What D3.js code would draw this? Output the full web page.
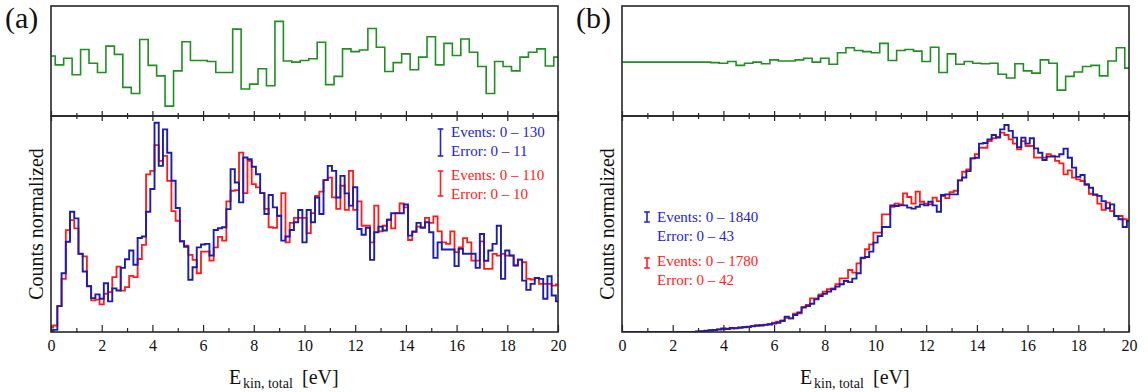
<!DOCTYPE html>
<html>
<head>
<meta charset="utf-8">
<script src="https://cdn.jsdelivr.net/npm/d3@7"></script>
<style>
  html, body { margin: 0; padding: 0; background: #fff; }
  svg { display: block; }
</style>
</head>
<body>
<svg id="chart" width="1148" height="392"></svg>
<script>
// ---- data -------------------------------------------------------------
// Fine histograms: bins of 1/6 eV centred on k/6 eV (k = 0..120), normalized counts (%)
const energyBinWidth = 1 / 6;
// Difference histograms: bins of 1/3 eV centred on k/3 eV (k = 0..60)
const diffBinWidth = 1 / 3;

const countsA_blue = [
  0.5, 1, 12, 27.2, 41.8, 55.7, 52.6, 36.2, 28, 21.2,
  15.7, 17.4, 15.4, 22.6, 14.2, 20.2, 19.2, 29.7, 33.7, 37.7,
  31.1, 43.5, 44.2, 55.7, 66.2, 96.9, 76.9, 93.8, 83, 70,
  57.4, 42, 39.5, 24.2, 30, 39.2, 40.5, 40.8, 35.4, 47.2,
  48, 48.5, 56.9, 75.4, 69.2, 60, 80.8, 80, 76.5, 73,
  64.3, 54.6, 63.4, 57.7, 53.8, 42.3, 44.2, 47.2, 50.8, 56.5,
  41.5, 56.5, 50.8, 62.3, 54.6, 70.3, 76.9, 74.6, 62.3, 72.3,
  64.2, 58.5, 67, 47.7, 45, 48.2, 33.4, 46.2, 48.8, 47,
  52, 55, 55, 55, 59, 44.6, 46.6, 50.5, 48.2, 50.8,
  46.2, 34.3, 41.5, 38.2, 38.2, 38.2, 30.5, 38.5, 36.2, 36.2,
  36.2, 29.7, 45.4, 33, 37.7, 40.8, 49.2, 24.6, 37.7, 35.4,
  30.8, 33.5, 23.8, 19.5, 22.3, 25, 24.6, 15.4, 25.8, 16.9,
  14.2
];
const countsA_red = [
  2, 3, 12, 24.6, 47.2, 51.8, 48, 36.2, 35, 21.2,
  14.6, 15, 12.8, 17.7, 18.5, 25.4, 30.3, 19.2, 20.8, 26,
  25.4, 33.8, 40.3, 73, 74.6, 86.5, 79.2, 81.5, 70, 56,
  51.5, 42, 40, 35.7, 33.4, 27.2, 37.2, 37.2, 33, 39.2,
  44, 42.3, 60.5, 65.4, 65.7, 83, 64.3, 79.2, 68.5, 67,
  64.3, 57, 48.5, 48.2, 53.8, 64.3, 41.5, 50.5, 52.8, 52.8,
  52.8, 45.8, 55, 63, 65, 70.3, 71.5, 62.3, 57, 67.7,
  56.5, 74.6, 56.5, 60.5, 49.2, 49.2, 41.5, 58.5, 46.6, 49.2,
  52, 48, 55, 59.5, 57.7, 42.6, 46.2, 48.8, 48.5, 52.8,
  50.5, 53.5, 46.6, 41.5, 40.8, 46.6, 37, 39.2, 43.5, 41.5,
  33, 33, 42, 29.2, 29.2, 36.2, 35.4, 36.2, 35.4, 35.4,
  30.8, 33.5, 32.3, 24.6, 24.3, 25, 22.3, 22.3, 22.3, 21.5,
  22
];
const diffA = [
  0.09, -0.07, 0.05, -0.25, 0.21, -0.04, -0.21, 0.27, 0.12, -0.48,
  -0.59, 0.39, -0.08, -0.27, -0.82, -0.18, 0.35, 0.01, 0.01, -0.01,
  -0.21, -0.21, 0.58, -0.51, -0.42, -0.14, -0.45, 0.72, 0, -0.02,
  0.01, 0.04, 0.34, -0.43, -0.28, 0.22, 0.17, 0.2, 0.59, 0.25,
  -0.19, -0.03, 0.13, -0.16, 0.07, 0.44, -0.07, 0.32, 0.1, 0.4,
  0.16, -0.1, -0.59, -0.01, -0.1, -0.18, 0.07, 0.16, 0.22, -0.09,
  0.07
];

const countsB_blue = [
  0, 0, 0, 0, 0, 0, 0, 0, 0, 0,
  0, 0, 0, 0, 0, 0, 0, 0, 0.3, 0.4,
  0.6, 0.8, 0.9, 1.1, 1.6, 1.4, 1.9, 1.7, 2.0, 2.2,
  2.4, 2.6, 2.9, 3.1, 3.3, 3.5, 3.9, 4.3, 5.1, 7.1,
  6.3, 7.9, 9, 11.3, 12, 13.1, 15.1, 16.7, 17.7, 18.7,
  19.8, 21, 22.1, 23.6, 23.1, 24.7, 27.2, 34.4, 34.7, 37.2,
  41.4, 44.4, 48.6, 48.6, 58.6, 58.3, 58.6, 58.6, 57.6, 57.1,
  58, 59.1, 58.6, 60.3, 58.6, 55.7, 63.4, 63.7, 63.7, 63.7,
  70.2, 71.5, 74.5, 80.4, 80.7, 87.2, 87.5, 89.2, 91.2, 90,
  93.8, 95.8, 93.1, 90, 85.6, 90, 87.2, 89.7, 85, 83,
  79.6, 81.2, 81.2, 81.2, 82.3, 84.9, 80.7, 76.1, 71.8, 72.7,
  68.4, 66.8, 63.7, 63, 60.6, 57.3, 59.1, 53.7, 52.2, 48.6,
  51.4
];
const countsB_red = [
  0, 0, 0, 0, 0, 0, 0, 0, 0, 0,
  0, 0, 0, 0, 0, 0, 0, 0, 0.2, 0.3,
  0.5, 0.7, 0.9, 1.3, 1.2, 1.5, 1.6, 1.9, 2.1, 2.4,
  2.3, 2.8, 3.2, 3.0, 3.4, 3.8, 4.3, 4.8, 5.4, 6.6,
  6.3, 8.5, 8.6, 11.6, 12.5, 15.6, 15.6, 17.4, 18.7, 19.8,
  20.2, 22.1, 24.8, 24.8, 28.7, 27.5, 31.8, 34.1, 38.3, 40.6,
  46, 46, 54.5, 54.5, 57.9, 59.4, 59.1, 64.2, 62.5, 59.4,
  65, 60.3, 59.4, 59.1, 62.2, 60.6, 62.9, 62, 64.8, 65.4,
  70.2, 74.2, 75.3, 80.4, 82.3, 85.3, 85.3, 88.4, 89.7, 90.3,
  92.3, 91.2, 89.2, 87.2, 84.6, 88.4, 86.1, 86.1, 80.7, 80.7,
  80.7, 82.3, 81.5, 79.2, 78.1, 73, 74.8, 71.5, 70.7, 69.9,
  68.1, 64, 63.4, 59.4, 56.5, 59.9, 56, 53.7, 53.7, 52.2,
  51.4
];
const diffB = [
  -0.02, -0.02, -0.02, -0.02, -0.02, -0.02, -0.02, -0.02, -0.02, -0.02,
  -0.02, -0.03, -0.04, -0.01, -0.08, -0.04, -0.02, -0.05, 0.02, 0,
  0, 0.02, 0.05, -0.02, 0.05, -0.06, 0.15, 0.24, 0.19, 0.17,
  0.15, 0.32, 0.01, 0.19, 0.21, 0.18, -0.01, 0.25, -0.21, 0.13,
  -0.06, -0.01, -0.04, -0.05, -0.04, -0.24, -0.31, -0.05, -0.18, -0.22,
  0.02, -0.04, -0.53, -0.28, -0.2, -0.1, -0.08, -0.27, 0, 0.24,
  -0.13
];

const xTicks = [0, 2, 4, 6, 8, 10, 12, 14, 16, 18, 20];
const xMinorTicks = [1, 3, 5, 7, 9, 11, 13, 15, 17, 19];
const panelLabels = ["(a)", "(b)"];
const yTitle = "Counts normalized";
const legendA = [
  ["Events: 0 \u2013 130", "Error: 0 \u2013 11"],
  ["Events: 0 \u2013 110", "Error: 0 \u2013 10"]
];
const legendB = [
  ["Events: 0 \u2013 1840", "Error: 0 \u2013 43"],
  ["Events: 0 \u2013 1780", "Error: 0 \u2013 42"]
];

// ---- styling / geometry -------------------------------------------------
const SERIF = '"Liberation Serif", "Times New Roman", serif';
const BLUE = "#1c1cae", BLUE_TXT = "#2424d0";
const RED = "#ff1a1a", RED_TXT = "#ff2020";
const GREEN = "#1f8f1f";
const FRAME = "#262626";
const INK = "#111";

const padTop = 6, padMid = 116, padBottom = 332, plotW = 507;

const svg = d3.select("#chart").style("font-family", SERIF);

// Builds [energy, value] vertices of a step histogram, clipped to 0..20 eV
function stepPoints(values, bw) {
  const pts = [];
  values.forEach((v, k) => {
    const lo = Math.max(0, (k - 0.5) * bw);
    const hi = Math.min(20, (k + 0.5) * bw);
    pts.push([lo, v], [hi, v]);
  });
  return pts;
}

function label(sel, size) {
  return sel.style("font-family", SERIF).style("font-size", size + "px");
}

function drawPanel(cfg, idx) {
  const x0 = cfg.left;
  const x = d3.scaleLinear().domain([0, 20]).range([x0, x0 + plotW]);
  const yLow = d3.scaleLinear().domain([0, 100]).range([padBottom, padMid]);
  const yTop = d3.scaleLinear().domain([-1, 1]).range([padMid, padTop]);

  const g = svg.append("g");

  const clipLow = "clipLow" + idx, clipTop = "clipTop" + idx;
  const defs = svg.append("defs");
  defs.append("clipPath").attr("id", clipLow)
    .append("rect").attr("x", x0).attr("y", padMid).attr("width", plotW).attr("height", padBottom - padMid);
  defs.append("clipPath").attr("id", clipTop)
    .append("rect").attr("x", x0).attr("y", padTop).attr("width", plotW).attr("height", padMid - padTop);

  // difference histogram (upper pad)
  const lineTop = d3.line().x(d => x(d[0])).y(d => yTop(d[1]));
  g.append("path")
    .attr("clip-path", `url(#${clipTop})`)
    .attr("d", lineTop(stepPoints(cfg.diff, diffBinWidth)))
    .attr("fill", "none").attr("stroke", GREEN).attr("stroke-width", 1.6);

  // count histograms (lower pad): red first, blue drawn over it
  const lineLow = d3.line().x(d => x(d[0])).y(d => yLow(d[1]));
  [[cfg.red, RED, 1.8], [cfg.blue, BLUE, 1.9]].forEach(([vals, col, sw]) => {
    g.append("path")
      .attr("clip-path", `url(#${clipLow})`)
      .attr("d", lineLow(stepPoints(vals, energyBinWidth)))
      .attr("fill", "none").attr("stroke", col).attr("stroke-width", sw);
  });

  // frames
  g.append("rect").attr("x", x0).attr("y", padTop).attr("width", plotW).attr("height", padMid - padTop)
    .attr("fill", "none").attr("stroke", FRAME).attr("stroke-width", 1.6);
  g.append("rect").attr("x", x0).attr("y", padMid).attr("width", plotW).attr("height", padBottom - padMid)
    .attr("fill", "none").attr("stroke", FRAME).attr("stroke-width", 1.6);

  // ticks
  function addAxis(axis, yPos, withLabels) {
    const a = g.append("g").attr("transform", `translate(0,${yPos})`).call(axis);
    a.attr("font-family", null).attr("font-size", null);
    a.select(".domain").remove();
    a.selectAll(".tick line").attr("stroke", FRAME).attr("stroke-width", 1.2);
    if (withLabels) {
      label(a.selectAll(".tick text").attr("fill", INK), 16);
    } else {
      a.selectAll(".tick text").remove();
    }
  }
  // bottom axis: inward ticks with labels
  addAxis(d3.axisBottom(x).tickValues(xTicks).tickSizeInner(-7).tickSizeOuter(0).tickPadding(8), padBottom, true);
  addAxis(d3.axisBottom(x).tickValues(xMinorTicks).tickSizeInner(-4).tickSizeOuter(0), padBottom, false);
  // shared divider: ticks pointing down into lower pad and up into upper pad
  addAxis(d3.axisTop(x).tickValues(xTicks).tickSizeInner(-5).tickSizeOuter(0), padMid, false);
  addAxis(d3.axisTop(x).tickValues(xMinorTicks).tickSizeInner(-3).tickSizeOuter(0), padMid, false);
  addAxis(d3.axisBottom(x).tickValues(xTicks).tickSizeInner(-5).tickSizeOuter(0), padMid, false);
  addAxis(d3.axisBottom(x).tickValues(xMinorTicks).tickSizeInner(-3).tickSizeOuter(0), padMid, false);

  // x title
  const t = label(g.append("text").attr("y", 384).attr("fill", INK), 20);
  label(t.append("tspan").attr("x", x0 + 178), 20).text("E");
  label(t.append("tspan").attr("x", x0 + 192).attr("dy", 4), 14).text("kin, total");
  label(t.append("tspan").attr("x", x0 + 251).attr("dy", -4), 20).text("[eV]");

  // y title
  label(g.append("text")
    .attr("transform", `translate(${x0 - 8},${(padMid + padBottom) / 2}) rotate(-90)`)
    .attr("text-anchor", "middle").attr("fill", INK), 20).text(yTitle);

  // panel tag
  label(g.append("text").attr("x", x0 - 46).attr("y", 28).attr("fill", INK), 30)
    .text(panelLabels[idx]);

  // legend: error-bar glyph + two text lines per series
  cfg.legend.forEach((lines, i) => {
    const L = cfg.legendPos[i];
    const col = i === 0 ? BLUE_TXT : RED_TXT;
    const lg = g.append("g");
    lg.append("line").attr("x1", L.bx).attr("x2", L.bx).attr("y1", L.b1).attr("y2", L.b2)
      .attr("stroke", col).attr("stroke-width", 1.6);
    [L.b1, L.b2].forEach(yy => {
      lg.append("line").attr("x1", L.bx - 2.8).attr("x2", L.bx + 2.8).attr("y1", yy).attr("y2", yy)
        .attr("stroke", col).attr("stroke-width", 1.6);
    });
    lines.forEach((s, j) => {
      label(lg.append("text").attr("x", L.tx).attr("y", L.ty[j]).attr("fill", col), 15).text(s);
    });
  });
}

const panels = [
  {
    left: 51, blue: countsA_blue, red: countsA_red, diff: diffA, legend: legendA,
    legendPos: [
      { bx: 440.5, b1: 129, b2: 156, tx: 451, ty: [137, 156] },
      { bx: 440.5, b1: 171, b2: 196, tx: 451, ty: [180, 199] }
    ]
  },
  {
    left: 622, blue: countsB_blue, red: countsB_red, diff: diffB, legend: legendB,
    legendPos: [
      { bx: 647, b1: 212, b2: 222, tx: 657, ty: [222, 241] },
      { bx: 647, b1: 258, b2: 268, tx: 657, ty: [266, 285] }
    ]
  }
];
panels.forEach(drawPanel);
</script>
</body>
</html>
